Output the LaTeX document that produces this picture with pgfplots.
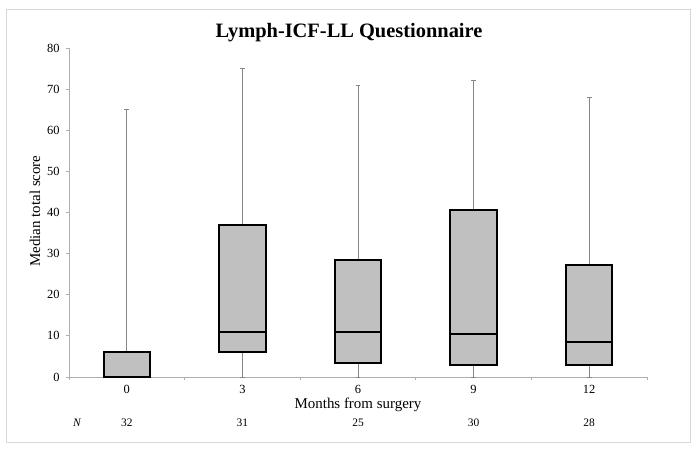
\documentclass[border=0pt]{standalone}
\usepackage{fontspec}
\setmainfont{Liberation Serif}
\usepackage{pgfplots}
\pgfplotsset{compat=1.18}
\usepgfplotslibrary{statistics}
\definecolor{boxfill}{RGB}{192,192,192}
\definecolor{axgray}{RGB}{175,175,175}
\definecolor{whisk}{RGB}{135,135,135}
\definecolor{framegray}{RGB}{215,215,215}
\begin{document}
\begin{tikzpicture}
\useasboundingbox (-69bp,-74bp) rectangle (629bp,377bp);
\draw[framegray, line width=1bp] (-62bp,-65bp) rectangle (621bp,367bp);
\begin{axis}[
  at={(0,0)}, anchor=south west,
  scale only axis, width=578bp, height=329bp,
  xmin=-0.5, xmax=4.5, ymin=0, ymax=80,
  clip=false,
  axis x line*=bottom, axis y line*=left,
  axis line style={axgray, line width=0.9bp},
  xtick={-0.5,0.5,1.5,2.5,3.5,4.5}, xticklabels={},
  extra x ticks={0,1,2,3,4}, extra x tick labels={0,3,6,9,12},
  extra x tick style={major tick length=0pt, tick label style={yshift=-5bp}},
  ytick={0,10,...,80},
  tick align=outside,
  major tick length=3bp,
  tick style={axgray, line width=0.9bp},
  /pgf/number format/assume math mode=true,
  tick label style={font=\fontsize{12.5}{14}\selectfont},
  yticklabel style={xshift=-3bp},
  boxplot/draw direction=y,
  boxplot/box extend=0.4,
  boxplot/whisker extend=0.04,
  boxplot/every box/.style={draw=black, line width=2bp, fill=boxfill},
  boxplot/every whisker/.style={whisk, line width=1bp, fill=none},
  boxplot/every median/.style={black, line width=1.7bp, fill=none},
]
\addplot[black, fill=boxfill, boxplot prepared={draw position=0, lower whisker=0, lower quartile=0, median=0, upper quartile=6, upper whisker=65}] coordinates {};
\addplot[black, fill=boxfill, boxplot prepared={draw position=1, lower whisker=0, lower quartile=6, median=11, upper quartile=37, upper whisker=75}] coordinates {};
\addplot[black, fill=boxfill, boxplot prepared={draw position=2, lower whisker=0, lower quartile=3.5, median=11, upper quartile=28.5, upper whisker=71}] coordinates {};
\addplot[black, fill=boxfill, boxplot prepared={draw position=3, lower whisker=0, lower quartile=3, median=10.5, upper quartile=40.5, upper whisker=72}] coordinates {};
\addplot[black, fill=boxfill, boxplot prepared={draw position=4, lower whisker=0, lower quartile=3, median=8.5, upper quartile=27.2, upper whisker=68}] coordinates {};
\node[anchor=base, font=\fontsize{11.5}{13}\selectfont, yshift=-49.7bp] at (axis cs:0,0) {32};
\node[anchor=base, font=\fontsize{11.5}{13}\selectfont, yshift=-49.7bp] at (axis cs:1,0) {31};
\node[anchor=base, font=\fontsize{11.5}{13}\selectfont, yshift=-49.7bp] at (axis cs:2,0) {25};
\node[anchor=base, font=\fontsize{11.5}{13}\selectfont, yshift=-49.7bp] at (axis cs:3,0) {30};
\node[anchor=base, font=\fontsize{11.5}{13}\selectfont, yshift=-49.7bp] at (axis cs:4,0) {28};
\end{axis}
\node[anchor=base, font=\fontsize{20.5}{24}\selectfont\bfseries] at (280bp,339.7bp) {Lymph-ICF-LL Questionnaire};
\node[rotate=90, anchor=center, font=\fontsize{15}{18}\selectfont] at (-34bp,166bp) {Median total score};
\node[anchor=base, font=\fontsize{15}{18}\selectfont] at (289bp,-31bp) {Months from surgery};
\node[anchor=base, font=\fontsize{11.5}{13}\selectfont\itshape] at (8bp,-49.7bp) {N};
\end{tikzpicture}
\end{document}
